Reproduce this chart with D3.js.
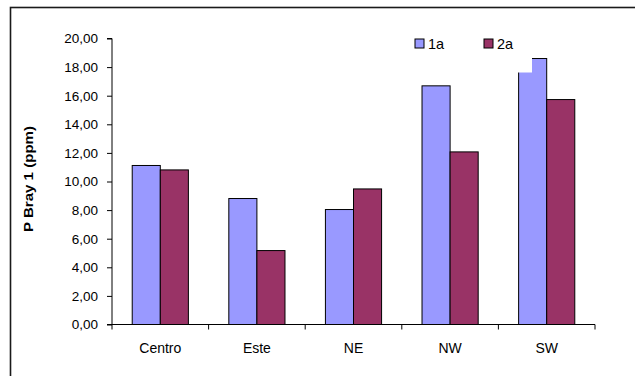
<!DOCTYPE html>
<html>
<head>
<meta charset="utf-8">
<script src="https://cdn.jsdelivr.net/npm/d3@7/dist/d3.min.js"></script>
<style>
  html, body { margin: 0; padding: 0; background: #fff; }
  svg { display: block; }
  text { font-family: "Liberation Sans", Arial, sans-serif; fill: #000; }
</style>
</head>
<body>
<svg id="chart" width="635" height="376"></svg>
<script>
// P Bray 1 (ppm) by zone, first and second sampling
const categories = ["Centro", "Este", "NE", "NW", "SW"];
const seriesNames = ["1a", "2a"];
const values1a = [11.12, 8.81, 8.04, 16.69, 18.60];
const values2a = [10.81, 5.17, 9.48, 12.07, 15.73];
const yTicks = [0, 2, 4, 6, 8, 10, 12, 14, 16, 18, 20];
const colors = ["#9999FF", "#993366"];

const svg = d3.select("#chart");
const plotL = 112, plotR = 595, plotT = 38.5, plotB = 324.5;

// outer chart frame (only top and left edges fall inside the view)
svg.append("rect")
  .attr("x", 10.5).attr("y", 7.5)
  .attr("width", 700).attr("height", 500)
  .attr("fill", "none").attr("stroke", "#1a1a1a").attr("stroke-width", 1.6);

const x0 = d3.scaleBand().domain(categories).range([plotL, plotR]).paddingInner(0).paddingOuter(0);
const x1 = d3.scaleBand().domain(seriesNames).range([0, x0.bandwidth()]).paddingInner(0).paddingOuter(0.72);
const y = d3.scaleLinear().domain([0, 20]).range([plotB, plotT]);

const rows = categories.map((c, i) => ({ cat: c, vals: [values1a[i], values2a[i]] }));

const groups = svg.append("g").selectAll("g").data(rows).join("g")
  .attr("transform", d => `translate(${x0(d.cat)},0)`);

groups.selectAll("rect").data(d => d.vals.map((v, k) => ({ k, v }))).join("rect")
  .attr("x", d => x1(seriesNames[d.k]))
  .attr("y", d => y(d.v))
  .attr("width", x1.bandwidth())
  .attr("height", d => y(0) - y(d.v))
  .attr("fill", d => colors[d.k])
  .attr("stroke", "#000").attr("stroke-width", 1);

// y axis
const yAxis = svg.append("g").attr("transform", `translate(${plotL},0)`)
  .call(d3.axisLeft(y).tickValues(yTicks).tickSize(5).tickPadding(9)
    .tickFormat(d => d3.format(".2f")(d).replace(".", ",")));
yAxis.select(".domain").attr("d", `M-5,${plotT}H0V${plotB}H-5`).attr("stroke", "#000");
yAxis.selectAll("text").attr("font-size", 13.5).attr("font-family", "Liberation Sans, Arial, sans-serif");

// x axis with ticks on category boundaries
const xAxis = svg.append("g").attr("transform", `translate(0,${plotB})`);
xAxis.append("line").attr("x1", plotL).attr("x2", plotR).attr("stroke", "#000");
xAxis.selectAll("line.tk").data(categories.map(c => x0(c)).concat([plotR])).join("line")
  .attr("class", "tk")
  .attr("x1", d => d).attr("x2", d => d).attr("y1", 0).attr("y2", 5).attr("stroke", "#000");
xAxis.selectAll("text").data(categories).join("text")
  .attr("x", d => x0(d) + x0.bandwidth() / 2)
  .attr("y", 28)
  .attr("text-anchor", "middle")
  .attr("font-size", 14)
  .text(d => d);

// axis title
svg.append("text")
  .attr("transform", "translate(33,179) rotate(-90)")
  .attr("text-anchor", "middle")
  .attr("font-size", 12.5).attr("font-weight", "bold")
  .attr("textLength", 106).attr("lengthAdjust", "spacingAndGlyphs")
  .text("P Bray 1 (ppm)");

// legend with white background
const legend = svg.append("g");
legend.append("rect").attr("x", 405).attr("y", 26).attr("width", 127).attr("height", 46.5).attr("fill", "#fff");
const items = legend.selectAll("g").data(seriesNames).join("g")
  .attr("transform", (d, i) => `translate(${415 + i * 69},39)`);
items.append("rect").attr("width", 9).attr("height", 9)
  .attr("fill", (d, i) => colors[i]).attr("stroke", "#000").attr("stroke-width", 1);
items.append("text").attr("x", 13).attr("y", 10).attr("font-size", 14.5).text(d => d);
</script>
</body>
</html>
